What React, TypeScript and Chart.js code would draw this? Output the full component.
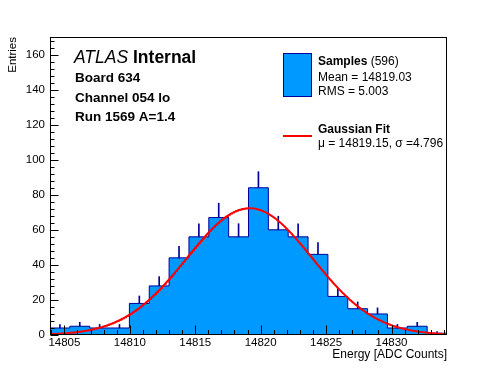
import React, { useEffect, useRef } from "react";
import { Chart, registerables } from "chart.js";

Chart.register(...registerables);

// ---- data ----
const binLowEdge = 14803.9;
const binWidth = 1.517;
const binCounts = [4, 5, 4, 4, 18, 28, 44, 56, 67, 56, 84, 60, 56, 46, 22, 15, 12, 4, 5, 1];
const xRange = [14803.9, 14834.24];
const yRange = [0, 170];
const xTickValues = [14805, 14810, 14815, 14820, 14825, 14830];
const yTickValues = [0, 20, 40, 60, 80, 100, 120, 140, 160];
const fitMu = 14819.15;
const fitSigma = 4.796;
const fitPeak = 72.3;
const sampleEntries = 596;
const sampleMean = "14819.03";
const sampleRms = "5.003";
const infoLines = ["Board 634", "Channel 054 lo", "Run 1569 A=1.4"];

const FONT = '"Liberation Sans", Arial, Helvetica, sans-serif';
const FILL = "#0099ff";
const EDGE = "#000099";

const binEdges = binCounts.map((_, i) => binLowEdge + i * binWidth).concat([binLowEdge + binCounts.length * binWidth]);
const stairPoints = binEdges.map((x, i) => ({ x, y: binCounts[Math.min(i, binCounts.length - 1)] }));
const errorBars = binCounts.map((c, i) => ({ x: binLowEdge + (i + 0.5) * binWidth, y: [c, c + Math.sqrt(c)] }));
const fitPoints: { x: number; y: number }[] = [];
for (let x = xRange[0]; x <= xRange[1] + 1e-9; x += 0.05) {
  fitPoints.push({ x, y: fitPeak * Math.exp(-0.5 * ((x - fitMu) / fitSigma) ** 2) });
}

const decorPlugin = {
  id: "decor",
  beforeDraw(chart: any) {
    const ctx = chart.ctx;
    ctx.save();
    ctx.fillStyle = "#fff";
    ctx.fillRect(0, 0, chart.width, chart.height);
    ctx.restore();
  },
  afterDatasetsDraw(chart: any) {
    const ctx = chart.ctx;
    const { left, right, top, bottom } = chart.chartArea;
    const xs = chart.scales.x;
    const ys = chart.scales.y;
    ctx.save();
    ctx.strokeStyle = "#000";
    ctx.lineWidth = 1;
    ctx.beginPath();
    for (let v = Math.ceil(xRange[0]); v <= xRange[1]; v += 1) {
      const px = Math.round(xs.getPixelForValue(v)) + 0.5;
      const len = v % 5 === 0 ? 9 : 4.5;
      ctx.moveTo(px, bottom - 0.5);
      ctx.lineTo(px, bottom - 0.5 - len);
    }
    for (let v = yRange[0]; v <= yRange[1]; v += 4) {
      const py = Math.round(ys.getPixelForValue(v)) + 0.5;
      const len = v % 20 === 0 ? 8 : 4;
      ctx.moveTo(left + 0.5, py);
      ctx.lineTo(left + 0.5 + len, py);
    }
    ctx.stroke();
    ctx.strokeRect(left + 0.5, top + 0.5, right - left - 1, bottom - top - 1);
    ctx.restore();
  },
  afterDraw(chart: any) {
    const ctx = chart.ctx;
    ctx.save();
    ctx.fillStyle = "#000";
    ctx.textBaseline = "alphabetic";
    ctx.textAlign = "left";
    // ATLAS label
    ctx.font = `italic 17.5px ${FONT}`;
    ctx.fillText("ATLAS", 74, 63);
    const w = ctx.measureText("ATLAS ").width;
    ctx.font = `bold 17.5px ${FONT}`;
    ctx.fillText("Internal", 74 + w, 63);
    ctx.font = `bold 13.5px ${FONT}`;
    const infoY = [82, 101.5, 121];
    infoLines.forEach((t, i) => ctx.fillText(t, 75, infoY[i]));
    // legend
    ctx.fillStyle = FILL;
    ctx.fillRect(283, 53, 29, 44);
    ctx.strokeStyle = EDGE;
    ctx.lineWidth = 1;
    ctx.strokeRect(283.5, 53.5, 28, 43);
    ctx.fillStyle = "#000";
    ctx.font = `bold 12px ${FONT}`;
    ctx.fillText("Samples", 318, 65);
    const sw = ctx.measureText("Samples").width;
    ctx.font = `12px ${FONT}`;
    ctx.fillText(` (${sampleEntries})`, 318 + sw, 65);
    ctx.fillText(`Mean = ${sampleMean}`, 318, 80.5);
    ctx.fillText(`RMS = ${sampleRms}`, 318, 94.5);
    ctx.strokeStyle = "#ff0000";
    ctx.lineWidth = 2;
    ctx.beginPath();
    ctx.moveTo(283, 136);
    ctx.lineTo(312, 136);
    ctx.stroke();
    ctx.font = `bold 12px ${FONT}`;
    ctx.fillText("Gaussian Fit", 318, 133);
    ctx.font = `12px ${FONT}`;
    ctx.fillText(`\u03bc = ${fitMu.toFixed(2)}, \u03c3 =${fitSigma.toFixed(3)}`, 318, 147);
    ctx.restore();
  },
};

export default function App() {
  const ref = useRef<HTMLCanvasElement>(null);
  useEffect(() => {
    if (!ref.current) return;
    Chart.defaults.font.family = FONT;
    const chart = new Chart(ref.current, {
      type: "bar",
      data: {
        datasets: [
          {
            type: "line",
            data: fitPoints,
            borderColor: "#ff0000",
            borderWidth: 2,
            pointRadius: 0,
            fill: false,
            tension: 0,
            order: 0,
          } as any,
          {
            type: "bar",
            data: errorBars,
            backgroundColor: EDGE,
            borderWidth: 0,
            barThickness: 1,
            order: 1,
          } as any,
          {
            type: "line",
            data: stairPoints,
            stepped: "before",
            borderColor: EDGE,
            borderWidth: 1,
            backgroundColor: FILL,
            fill: "origin",
            pointRadius: 0,
            order: 2,
          } as any,
        ],
      },
      options: {
        animation: false,
        responsive: false,
        devicePixelRatio: 1,
        layout: { padding: { top: 37, right: 49, left: 0, bottom: 0 } },
        plugins: { legend: { display: false }, tooltip: { enabled: false } },
        scales: {
          x: {
            type: "linear",
            min: xRange[0],
            max: xRange[1],
            offset: false,
            grid: { display: false, drawTicks: false },
            border: { display: false },
            afterBuildTicks: (s: any) => {
              s.ticks = xTickValues.map((v) => ({ value: v }));
            },
            afterFit: (s: any) => {
              s.height = 37;
            },
            ticks: {
              padding: 2,
              color: "#000",
              font: { size: 11.5, lineHeight: 1 },
              maxRotation: 0,
              autoSkip: false,
              callback: (v: any) => String(v),
            },
            title: {
              display: true,
              text: "Energy [ADC Counts]",
              align: "end",
              color: "#000",
              font: { size: 12 },
              padding: { top: 0, bottom: 10 },
            },
          },
          y: {
            type: "linear",
            min: yRange[0],
            max: yRange[1],
            grid: { display: false, drawTicks: false },
            border: { display: false },
            afterBuildTicks: (s: any) => {
              s.ticks = yTickValues.map((v) => ({ value: v }));
            },
            afterFit: (s: any) => {
              s.width = 50;
            },
            ticks: {
              padding: 5,
              color: "#000",
              font: { size: 11.5 },
              callback: (v: any) => String(v),
            },
            title: {
              display: true,
              text: "Entries",
              align: "end",
              color: "#000",
              font: { size: 11.5 },
              padding: { top: 6, bottom: 0 },
            },
          },
        },
      } as any,
      plugins: [decorPlugin],
    });
    return () => chart.destroy();
  }, []);
  return (
    <div style={{ position: "absolute", left: 0, top: 0, width: 496, height: 372, background: "#fff" }}>
      <canvas ref={ref} width={496} height={372} style={{ display: "block", width: 496, height: 372 }} />
    </div>
  );
}
